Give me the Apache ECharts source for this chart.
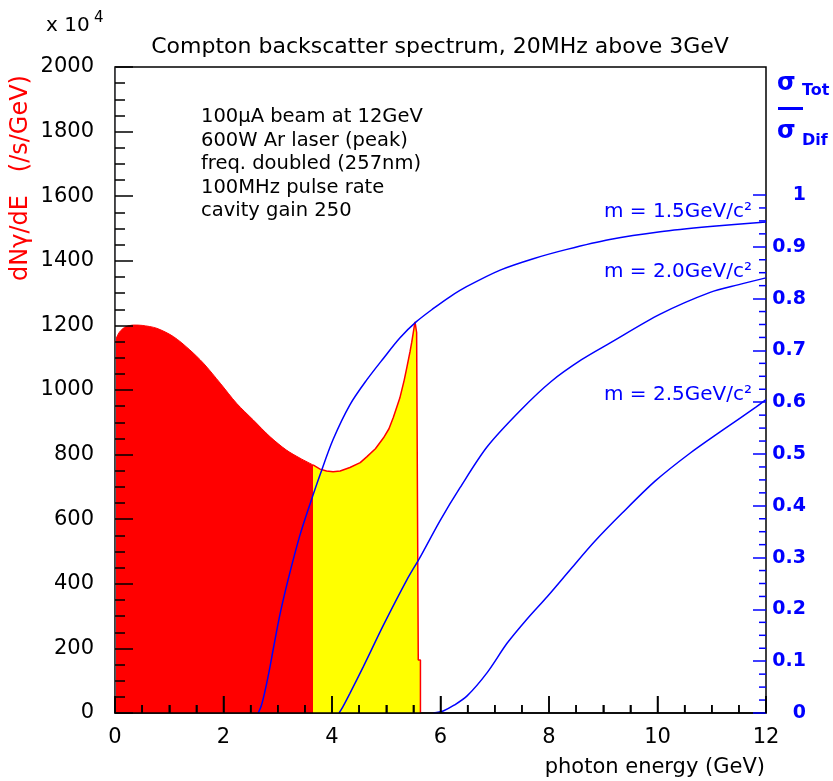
<!DOCTYPE html>
<html>
<head>
<meta charset="utf-8">
<script src="https://cdn.jsdelivr.net/npm/echarts@6/dist/echarts.min.js"></script>
<style>
  html, body { margin: 0; padding: 0; background: #fff; }
  #chart { width: 833px; height: 781px; }
</style>
</head>
<body>
<div id="chart"></div>
<script>
// Photon spectrum, units of 10^4 photons / s / GeV, split at the tagging threshold
const spectrumLow = [
  [0, 1150], [0.05, 1170], [0.1, 1183], [0.2, 1196], [0.35, 1201], [0.5, 1200],
  [0.77, 1191], [1.08, 1165], [1.38, 1124], [1.63, 1083], [1.94, 1021],
  [2.24, 959], [2.55, 907], [2.86, 855], [3.16, 814], [3.41, 789], [3.65, 768]
];
const spectrumHigh = [
  [3.65, 768], [3.78, 755], [3.9, 749], [4.02, 747], [4.15, 749], [4.33, 760],
  [4.52, 775], [4.64, 793], [4.8, 818], [4.95, 852], [5.05, 880], [5.13, 915],
  [5.25, 975], [5.33, 1030], [5.38, 1070], [5.44, 1120], [5.47, 1148],
  [5.51, 1190], [5.53, 1211], [5.56, 1178], [5.59, 1175], [5.59, 164],
  [5.63, 164], [5.63, 0]
];

// sigma_Tot / sigma_Dif versus photon energy for three meson masses
const ratioM15 = [
  [2.64, 0], [2.7, 0.015], [2.76, 0.04], [2.84, 0.08], [2.92, 0.125], [3.04, 0.19],
  [3.19, 0.257], [3.4, 0.34], [3.6, 0.405], [3.78, 0.46], [4.02, 0.528],
  [4.33, 0.595], [4.64, 0.643], [4.95, 0.685], [5.25, 0.724], [5.55, 0.755],
  [5.87, 0.781], [6.18, 0.804], [6.48, 0.823], [7.1, 0.855], [7.71, 0.877],
  [8.33, 0.895], [9.12, 0.914], [10.05, 0.929], [10.97, 0.939], [12, 0.948]
];
const ratioM20 = [
  [4.13, 0], [4.2, 0.012], [4.33, 0.038], [4.58, 0.09], [4.95, 0.17], [5.38, 0.257],
  [5.62, 0.3], [5.99, 0.371], [6.36, 0.435], [6.86, 0.514], [7.48, 0.585],
  [8.04, 0.64], [8.6, 0.682], [9.12, 0.714], [10.05, 0.77], [10.97, 0.812],
  [11.5, 0.827], [12, 0.84]
];
const ratioM25 = [
  [5.87, 0], [6.05, 0.004], [6.25, 0.015], [6.49, 0.033], [6.86, 0.078],
  [7.23, 0.135], [7.6, 0.182], [7.97, 0.225], [8.41, 0.279], [8.84, 0.331],
  [9.34, 0.385], [9.96, 0.448], [10.58, 0.5], [11.2, 0.546], [11.82, 0.591],
  [12, 0.605]
];

// right-hand scale: labelled from 0 to 1, frame reaches a bit higher
const ratioMax = 1.2471;
const ratioMajor = [0, 0.1, 0.2, 0.3, 0.4, 0.5, 0.6, 0.7, 0.8, 0.9, 1];
const ratioMinor = [];
for (let k = 0; k < 40; k++) if (k % 4) ratioMinor.push(+(k * 0.025).toFixed(3));

// energy ticks along the bottom edge: long every 2 GeV, short every 0.5 GeV
const energyTicks = [];
for (let k = 0; k <= 24; k++) energyTicks.push(k * 0.5);

const massLabels = ['m = 1.5GeV/c\u00B2', 'm = 2.0GeV/c\u00B2', 'm = 2.5GeV/c\u00B2'];
const beamNotes = [
  '100\u03BCA beam at 12GeV',
  '600W Ar laser (peak)',
  'freq. doubled (257nm)',
  '100MHz pulse rate',
  'cavity gain 250'
];
const titleText = 'Compton backscatter spectrum, 20MHz above 3GeV';
const xTitle = 'photon energy (GeV)';
const yTitle = 'dN\u03B3/dE   (/s/GeV)';

const FONT = 'DejaVu Sans';
const BLUE = '#0000ff';
const RED = '#ff0000';
const YELLOW = '#ffff00';
const X_MAX = 12;

const chart = echarts.init(document.getElementById('chart'), null, { renderer: 'canvas' });

function ink(color) { return { color: color, width: 1.5 }; }

function txt(x, y, text, style) {
  return {
    type: 'text', x: x, y: y, silent: true,
    style: Object.assign({ text: text, fontFamily: FONT, fontSize: 20, fill: '#000',
      verticalAlign: 'middle', align: 'left' }, style || {})
  };
}

const graphics = [
  txt(440, 47, titleText, { fontSize: 22, align: 'center' }),
  txt(46, 26, 'x 10', { fontSize: 20 }),
  txt(94, 18, '4', { fontSize: 15 }),
  txt(765, 768, xTitle, { fontSize: 21, align: 'right' }),
  {
    type: 'text', x: 21, y: 178, rotation: Math.PI / 2, silent: true,
    style: { text: yTitle, fontFamily: FONT, fontSize: 24, fill: RED,
      align: 'center', verticalAlign: 'middle' }
  },
  // fraction label of the right-hand axis
  txt(777, 84, '\u03C3', { fontSize: 24, fontWeight: 'bold', fill: BLUE }),
  txt(802, 91, 'Tot', { fontSize: 16, fontWeight: 'bold', fill: BLUE }),
  { type: 'rect', silent: true, shape: { x: 778, y: 107, width: 25, height: 3 },
    style: { fill: BLUE } },
  txt(777, 132, '\u03C3', { fontSize: 24, fontWeight: 'bold', fill: BLUE }),
  txt(802, 141, 'Dif', { fontSize: 16, fontWeight: 'bold', fill: BLUE })
];
beamNotes.forEach(function (line, i) {
  graphics.push(txt(201, 117 + i * 23.5, line, { fontSize: 19.5 }));
});
[212, 272, 395].forEach(function (y, i) {
  graphics.push(txt(752, y, massLabels[i], { fontSize: 20, fill: BLUE, align: 'right' }));
});

const option = {
  animation: false,
  backgroundColor: '#fff',
  grid: {
    left: 115, right: 67, top: 67, bottom: 68, show: true, borderColor: '#000',
    borderWidth: 1.5
  },
  xAxis: {
    type: 'value', min: 0, max: X_MAX, interval: 2, z: 10,
    axisLine: { onZero: false, lineStyle: ink('#000') },
    axisTick: { show: true, inside: true, length: 17, lineStyle: ink('#000') },
    minorTick: { show: true, splitNumber: 4, length: 8, lineStyle: ink('#000') },
    splitLine: { show: false },
    axisLabel: { color: '#000', fontSize: 21, fontFamily: FONT, margin: 14 }
  },
  yAxis: [
    {
      type: 'value', min: 0, max: 2000, interval: 200, position: 'left', z: 10,
      axisTick: { show: true, inside: true, length: 18, lineStyle: ink('#000') },
      minorTick: { show: true, splitNumber: 4, length: 10, lineStyle: ink('#000') },
      splitLine: { show: false },
      axisLabel: { color: '#000', fontSize: 21, fontFamily: FONT, margin: 21,
        formatter: function (v) { return String(v); } }
    },
    {
      type: 'value', min: 0, max: ratioMax, position: 'right', z: 10,
      axisLine: { show: false },
      axisTick: { show: true, inside: true, length: 13, lineStyle: ink(BLUE),
        customValues: ratioMajor },
      splitLine: { show: false },
      axisLabel: {
        customValues: ratioMajor,
        color: BLUE, fontSize: 19, fontWeight: 'bold', fontFamily: FONT,
        align: 'right', margin: 40,
        formatter: function (v) { return (v === 0 || v === 1) ? String(v) : v.toFixed(1); }
      }
    }
  ],
  series: [
    {
      type: 'line', yAxisIndex: 0, data: spectrumLow,
      showSymbol: false, smooth: 0.3,
      lineStyle: { color: RED, width: 1 },
      areaStyle: { color: RED, opacity: 1 }
    },
    {
      type: 'line', yAxisIndex: 0, data: spectrumHigh,
      showSymbol: false, smooth: false,
      lineStyle: { color: RED, width: 1.5 },
      areaStyle: { color: YELLOW, opacity: 1 }
    },
    {
      type: 'line', yAxisIndex: 1, data: ratioM15,
      showSymbol: false, smooth: 0.3,
      lineStyle: { color: BLUE, width: 1.5 }
    },
    {
      type: 'line', yAxisIndex: 1, data: ratioM20,
      showSymbol: false, smooth: 0.3,
      lineStyle: { color: BLUE, width: 1.5 }
    },
    {
      type: 'line', yAxisIndex: 1, data: ratioM25,
      showSymbol: false, smooth: 0.3,
      lineStyle: { color: BLUE, width: 1.5 }
    },
    {
      // short intermediate ticks on the right-hand ratio scale
      type: 'custom', yAxisIndex: 1, silent: true, clip: false, z: 10,
      data: ratioMinor.map(function (v) { return [X_MAX, v]; }),
      renderItem: function (params, api) {
        const p = api.coord([api.value(0), api.value(1)]);
        return {
          type: 'line',
          shape: { x1: p[0] - 7, y1: p[1], x2: p[0], y2: p[1] },
          style: { stroke: BLUE, lineWidth: 1.5 }
        };
      }
    }
  ],
  graphic: graphics
};

chart.setOption(option);

// energy ticks standing up from the bottom edge, placed through the axis scales
// and kept on their own top layer so the filled spectrum never hides them
const tickMarks = energyTicks.map(function (e) {
  const base = chart.convertToPixel({ xAxisIndex: 0, yAxisIndex: 0 }, [e, 0]);
  const len = (Math.abs(e % 2) < 1e-9) ? 17 : 8;
  return {
    type: 'line', silent: true, zlevel: 2, z: 100,
    shape: { x1: base[0], y1: base[1], x2: base[0], y2: base[1] - len },
    style: { stroke: '#000', lineWidth: 1.5 }
  };
});
chart.setOption({ graphic: graphics.concat(tickMarks) });
</script>
</body>
</html>
